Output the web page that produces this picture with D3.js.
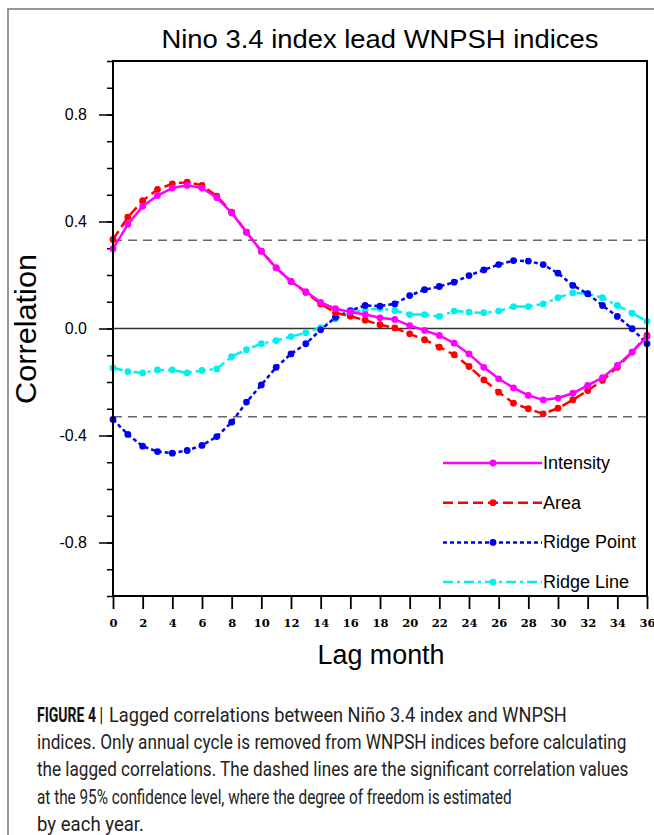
<!DOCTYPE html>
<html>
<head>
<meta charset="utf-8">
<script src="https://cdn.jsdelivr.net/npm/d3@7"></script>
<style>
  body { margin: 0; background: #fff; }
  svg { display: block; }
</style>
</head>
<body>
<svg id="chart" width="654" height="835"></svg>
<script>
// lag months (x) and the four lagged correlation series
const lags = [0, 1, 2, 3, 4, 5, 6, 7, 8, 9, 10, 11, 12, 13, 14, 15, 16, 17, 18,
              19, 20, 21, 22, 23, 24, 25, 26, 27, 28, 29, 30, 31, 32, 33, 34, 35, 36];

const intensity = [0.298, 0.389, 0.457, 0.497, 0.525, 0.535, 0.525, 0.489, 0.432, 0.360,
                   0.289, 0.227, 0.176, 0.138, 0.098, 0.074, 0.062, 0.052, 0.040, 0.034,
                   0.011, -0.007, -0.026, -0.055, -0.095, -0.145, -0.188, -0.222, -0.250,
                   -0.267, -0.260, -0.242, -0.213, -0.184, -0.138, -0.088, -0.030];

const area = [0.333, 0.416, 0.478, 0.520, 0.541, 0.547, 0.535, 0.495, 0.435, 0.360,
              0.289, 0.227, 0.176, 0.135, 0.092, 0.059, 0.046, 0.031, 0.014, 0.002,
              -0.020, -0.042, -0.070, -0.098, -0.142, -0.192, -0.238, -0.279, -0.300,
              -0.319, -0.298, -0.267, -0.232, -0.194, -0.145, -0.088, -0.026];

const ridgePoint = [-0.340, -0.396, -0.440, -0.460, -0.466, -0.456, -0.437, -0.404, -0.350,
                    -0.275, -0.211, -0.145, -0.095, -0.057, -0.005, 0.042, 0.067, 0.086,
                    0.084, 0.092, 0.123, 0.145, 0.157, 0.173, 0.198, 0.219, 0.239, 0.254,
                    0.252, 0.239, 0.207, 0.161, 0.130, 0.086, 0.045, -0.001, -0.057];

const ridgeLine = [-0.147, -0.161, -0.166, -0.155, -0.155, -0.166, -0.157, -0.151, -0.105,
                   -0.079, -0.057, -0.045, -0.030, -0.016, 0.003, 0.036, 0.059, 0.070,
                   0.075, 0.067, 0.052, 0.052, 0.045, 0.065, 0.061, 0.059, 0.065, 0.082,
                   0.082, 0.092, 0.115, 0.133, 0.130, 0.115, 0.086, 0.057, 0.027];

const seriesNames = ['Intensity', 'Area', 'Ridge Point', 'Ridge Line'];
const xTicks = [0, 2, 4, 6, 8, 10, 12, 14, 16, 18, 20, 22, 24, 26, 28, 30, 32, 34, 36];
const yTicks = [-0.8, -0.4, 0, 0.4, 0.8];
const sigLevel = [0.33, -0.33];

const captionLines = [
  'indices. Only annual cycle is removed from WNPSH indices before calculating',
  'the lagged correlations. The dashed lines are the significant correlation values',
  'at the 95% confidence level, where the degree of freedom is estimated',
  'by each year.'
];

// squeeze a text element horizontally so it spans the wanted width
function fitWidth(sel, x0, yb, wanted) {
  const w = sel.node().getComputedTextLength();
  const sx = w > 0 ? wanted / w : 1;
  sel.attr('transform', `translate(${x0}, ${yb}) scale(${sx}, 1)`);
}

function drawChart() {
  const svg = d3.select('#chart');
  svg.selectAll('*').remove();

  const margin = {top: 61, left: 113, right: 7, bottom: 239};
  const width = 654 - margin.left - margin.right;
  const height = 835 - margin.top - margin.bottom;
  const font = '"Liberation Sans", Arial, Helvetica, sans-serif';

  const styles = {
    'Intensity':   {color: '#ff00ff', dash: null},
    'Area':        {color: '#ff0000', dash: '10,5'},
    'Ridge Point': {color: '#0000f0', dash: '4,3'},
    'Ridge Line':  {color: '#00f0f0', dash: '10,4,3,4'}
  };
  const values = {'Intensity': intensity, 'Area': area, 'Ridge Point': ridgePoint, 'Ridge Line': ridgeLine};

  // figure border (top and left edges visible)
  svg.append('path')
    .attr('d', 'M8,835 V9 H654')
    .attr('fill', 'none')
    .attr('stroke', '#777')
    .attr('stroke-width', 1.5);

  const x = d3.scaleLinear().domain([0, 36]).range([0, width]);
  const y = d3.scaleLinear().domain([-1, 1]).range([height, 0]);

  const g = svg.append('g').attr('transform', `translate(${margin.left}, ${margin.top})`);

  // y axis: minor then major ticks
  const yMinor = g.append('g')
    .call(d3.axisLeft(y).tickValues(d3.range(-1, 1.001, 0.1)).tickSize(6).tickFormat(''));
  yMinor.select('.domain').remove();
  yMinor.selectAll('line').attr('stroke', '#000').attr('stroke-width', 1.5);

  const yAxis = g.append('g')
    .call(d3.axisLeft(y).tickValues(yTicks).tickSize(14).tickPadding(12)
      .tickFormat(d => d.toFixed(1)));
  yAxis.select('.domain').remove();
  yAxis.selectAll('line').attr('stroke', '#000').attr('stroke-width', 1.5);
  yAxis.selectAll('text')
    .attr('fill', '#000')
    .style('font-family', font)
    .style('font-size', '16px');

  const xAxis = g.append('g')
    .attr('transform', `translate(0, ${height})`)
    .call(d3.axisBottom(x).tickValues(xTicks).tickSize(13).tickPadding(10));
  xAxis.select('.domain').remove();
  xAxis.selectAll('line').attr('stroke', '#000').attr('stroke-width', 1.8);
  xAxis.selectAll('text')
    .attr('fill', '#000')
    .style('font-family', '"DejaVu Serif", "Liberation Serif", serif')
    .style('font-weight', 'bold')
    .style('font-size', '11.5px');

  // zero line and significance levels
  g.append('line')
    .attr('x1', 0).attr('x2', width)
    .attr('y1', y(0)).attr('y2', y(0))
    .attr('stroke', '#333')
    .attr('stroke-width', 1.3);

  g.selectAll('.sig')
    .data(sigLevel)
    .enter().append('line')
    .attr('class', 'sig')
    .attr('x1', 0).attr('x2', width)
    .attr('y1', d => y(d)).attr('y2', d => y(d))
    .attr('stroke', '#666')
    .attr('stroke-width', 1.5)
    .attr('stroke-dasharray', '9,6');

  const line = d3.line().x((d, i) => x(lags[i])).y(d => y(d));

  // draw back to front
  const order = ['Ridge Line', 'Ridge Point', 'Area', 'Intensity'];
  order.forEach(name => {
    const s = styles[name];
    g.append('path')
      .datum(values[name])
      .attr('d', line)
      .attr('fill', 'none')
      .attr('stroke', s.color)
      .attr('stroke-width', 2.5)
      .attr('stroke-dasharray', s.dash);

    g.selectAll(null)
      .data(values[name])
      .enter().append('circle')
      .attr('cx', (d, i) => x(lags[i]))
      .attr('cy', d => y(d))
      .attr('r', 3.4)
      .attr('fill', s.color);
  });

  // frame
  g.append('rect')
    .attr('width', width)
    .attr('height', height)
    .attr('fill', 'none')
    .attr('stroke', '#000')
    .attr('stroke-width', 2);

  // legend
  const legend = g.append('g').attr('transform', `translate(${443 - margin.left}, ${463 - margin.top})`);
  seriesNames.forEach((name, i) => {
    const s = styles[name];
    const row = legend.append('g').attr('transform', `translate(0, ${i * 39.7})`);
    row.append('line')
      .attr('x1', 0).attr('x2', 99)
      .attr('stroke', s.color)
      .attr('stroke-width', 2.5)
      .attr('stroke-dasharray', s.dash);
    row.append('circle')
      .attr('cx', 50)
      .attr('r', 3.4)
      .attr('fill', s.color);
    row.append('text')
      .attr('x', 100)
      .attr('y', 6)
      .style('font-family', font)
      .style('font-size', '18px')
      .style('fill', '#000')
      .text(name);
  });

  // titles
  svg.append('text')
    .attr('x', 380)
    .attr('y', 48)
    .attr('text-anchor', 'middle')
    .attr('textLength', 437)
    .attr('lengthAdjust', 'spacingAndGlyphs')
    .style('font-family', font)
    .style('font-size', '26px')
    .text('Nino 3.4 index lead WNPSH indices');

  svg.append('text')
    .attr('transform', 'translate(36, 329) rotate(-90)')
    .attr('text-anchor', 'middle')
    .attr('textLength', 150)
    .attr('lengthAdjust', 'spacingAndGlyphs')
    .style('font-family', font)
    .style('font-size', '29px')
    .text('Correlation');

  svg.append('text')
    .attr('x', 381)
    .attr('y', 664)
    .attr('text-anchor', 'middle')
    .attr('textLength', 127)
    .attr('lengthAdjust', 'spacingAndGlyphs')
    .style('font-family', font)
    .style('font-size', '27px')
    .text('Lag month');

  // caption
  const capFont = '"Roboto", "Liberation Sans", sans-serif';
  const bold = svg.append('text')
    .style('font-family', capFont)
    .style('font-size', '20px')
    .style('font-weight', 'bold')
    .style('fill', '#111')
    .text('FIGURE 4 |');
  fitWidth(bold, 37, 722, 66);

  const first = svg.append('text')
    .style('font-family', capFont)
    .style('font-size', '20px')
    .style('fill', '#222')
    .text('Lagged correlations between Niño 3.4 index and WNPSH');
  fitWidth(first, 109, 722, 458);

  const capWidths = [590, 592, 475, 107];
  captionLines.forEach((t, i) => {
    const line = svg.append('text')
      .style('font-family', capFont)
      .style('font-size', '20px')
      .style('fill', '#222')
      .text(t);
    fitWidth(line, 37, 749.2 + i * 27.2, capWidths[i]);
  });
}

drawChart();
</script>
</body>
</html>
